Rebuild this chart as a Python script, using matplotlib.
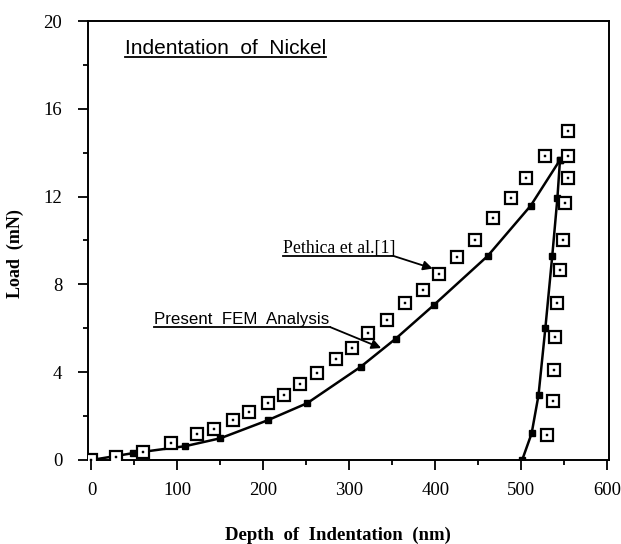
import matplotlib
matplotlib.use("Agg")
import matplotlib.pyplot as plt
from matplotlib.ticker import MultipleLocator

# FEM loading / unloading (present analysis)
fem_load_x = [0, 48, 109, 150, 205, 251, 313, 354, 398, 461, 511, 545]
fem_load_y = [0, 0.31, 0.63, 0.99, 1.81, 2.59, 4.24, 5.53, 7.05, 9.30, 11.59, 13.67]
fem_unload_x = [545, 542, 536, 528, 520, 512, 501]
fem_unload_y = [13.67, 11.94, 9.30, 6.02, 2.95, 1.21, 0.0]

# Pethica et al. [1] experimental data
pet_x = [0, 29, 60, 93, 123, 143, 165, 183, 205, 224, 243, 262, 285, 303, 322,
         344, 365, 386, 404, 425, 446, 467, 488, 505, 528, 554,
         554, 554, 551, 549, 545, 542, 539, 538, 537, 530]
pet_y = [0, 0.13, 0.38, 0.79, 1.18, 1.40, 1.81, 2.18, 2.59, 2.95, 3.44, 3.96, 4.62, 5.11, 5.77,
         6.39, 7.15, 7.73, 8.48, 9.27, 10.04, 11.04, 11.94, 12.84, 13.83, 14.99,
         13.83, 12.84, 11.70, 10.04, 8.64, 7.15, 5.61, 4.08, 2.67, 1.15]

x_ticks = [0, 100, 200, 300, 400, 500, 600]
y_ticks = [0, 4, 8, 12, 16, 20]

W, H = 621, 544
fig = plt.figure(figsize=(W / 100, H / 100), dpi=100)
ax = fig.add_axes([88 / W, 1 - 460 / H, (609 - 88) / W, (460 - 21) / H])

serif = ['Liberation Serif', 'DejaVu Serif']
sans = ['Liberation Sans', 'DejaVu Sans']

ax.plot(fem_load_x, fem_load_y, color='black', lw=1.8, marker='s', ms=4.5,
        mfc='black', mec='black', zorder=3)
ax.plot(fem_unload_x, fem_unload_y, color='black', lw=1.8, marker='s', ms=4,
        mfc='black', mec='black', zorder=3)
ax.plot(pet_x, pet_y, ls='none', marker='s', ms=8.5, mfc='white', mec='black',
        mew=1.6, zorder=4)
ax.plot(pet_x, pet_y, ls='none', marker='s', ms=1.5, mfc='black', mec='black',
        mew=0.3, zorder=5)

ax.set_xlim(-4, 602)
ax.set_ylim(0, 20)
ax.set_xticks(x_ticks)
ax.set_yticks(y_ticks)
ax.xaxis.set_minor_locator(MultipleLocator(50))
ax.yaxis.set_minor_locator(MultipleLocator(2))
ax.tick_params(which='major', direction='out', length=7.5, width=1.3)
ax.tick_params(which='minor', direction='out', length=3.5, width=1.3)
ax.tick_params(axis='x', pad=8)
ax.tick_params(axis='y', pad=11)
for lab in ax.get_xticklabels() + ax.get_yticklabels():
    lab.set_family(serif)
    lab.set_fontsize(13.5)
for s in ax.spines.values():
    s.set_linewidth(1.4)

fig.text(338 / W, 4 / H, 'Depth  of  Indentation  (nm)', family=serif,
         fontweight='bold', fontsize=13.5, ha='center', va='baseline')
fig.text(15 / W, 1 - 254 / H, 'Load  (mN)', family=serif, fontweight='bold',
         fontsize=13, rotation=90, ha='center', va='center')

# Title inside plot, underlined
ax.text(39, 18.5, 'Indentation  of  Nickel', family=sans, fontsize=15,
        ha='left', va='baseline')
ax.plot([39, 273], [18.36, 18.36], color='black', lw=1.3, clip_on=False)

# Pethica annotation
ax.text(223, 9.45, 'Pethica et al.[1]', family=serif, fontsize=12.8,
        ha='left', va='baseline')
ax.plot([223, 351], [9.3, 9.3], color='black', lw=1.3)
ax.annotate('', xy=(397, 8.72), xytext=(351, 9.3),
            arrowprops=dict(arrowstyle='-|>', color='black', lw=1.3,
                            mutation_scale=14, shrinkA=0, shrinkB=0))

# FEM annotation
ax.text(73, 6.2, 'Present  FEM  Analysis', family=sans, fontsize=12.2,
        ha='left', va='baseline')
ax.plot([73, 278], [6.05, 6.05], color='black', lw=1.3)
ax.annotate('', xy=(337, 5.1), xytext=(278, 6.05),
            arrowprops=dict(arrowstyle='-|>', color='black', lw=1.3,
                            mutation_scale=14, shrinkA=0, shrinkB=0))

fig.savefig('out.png', dpi=100)
